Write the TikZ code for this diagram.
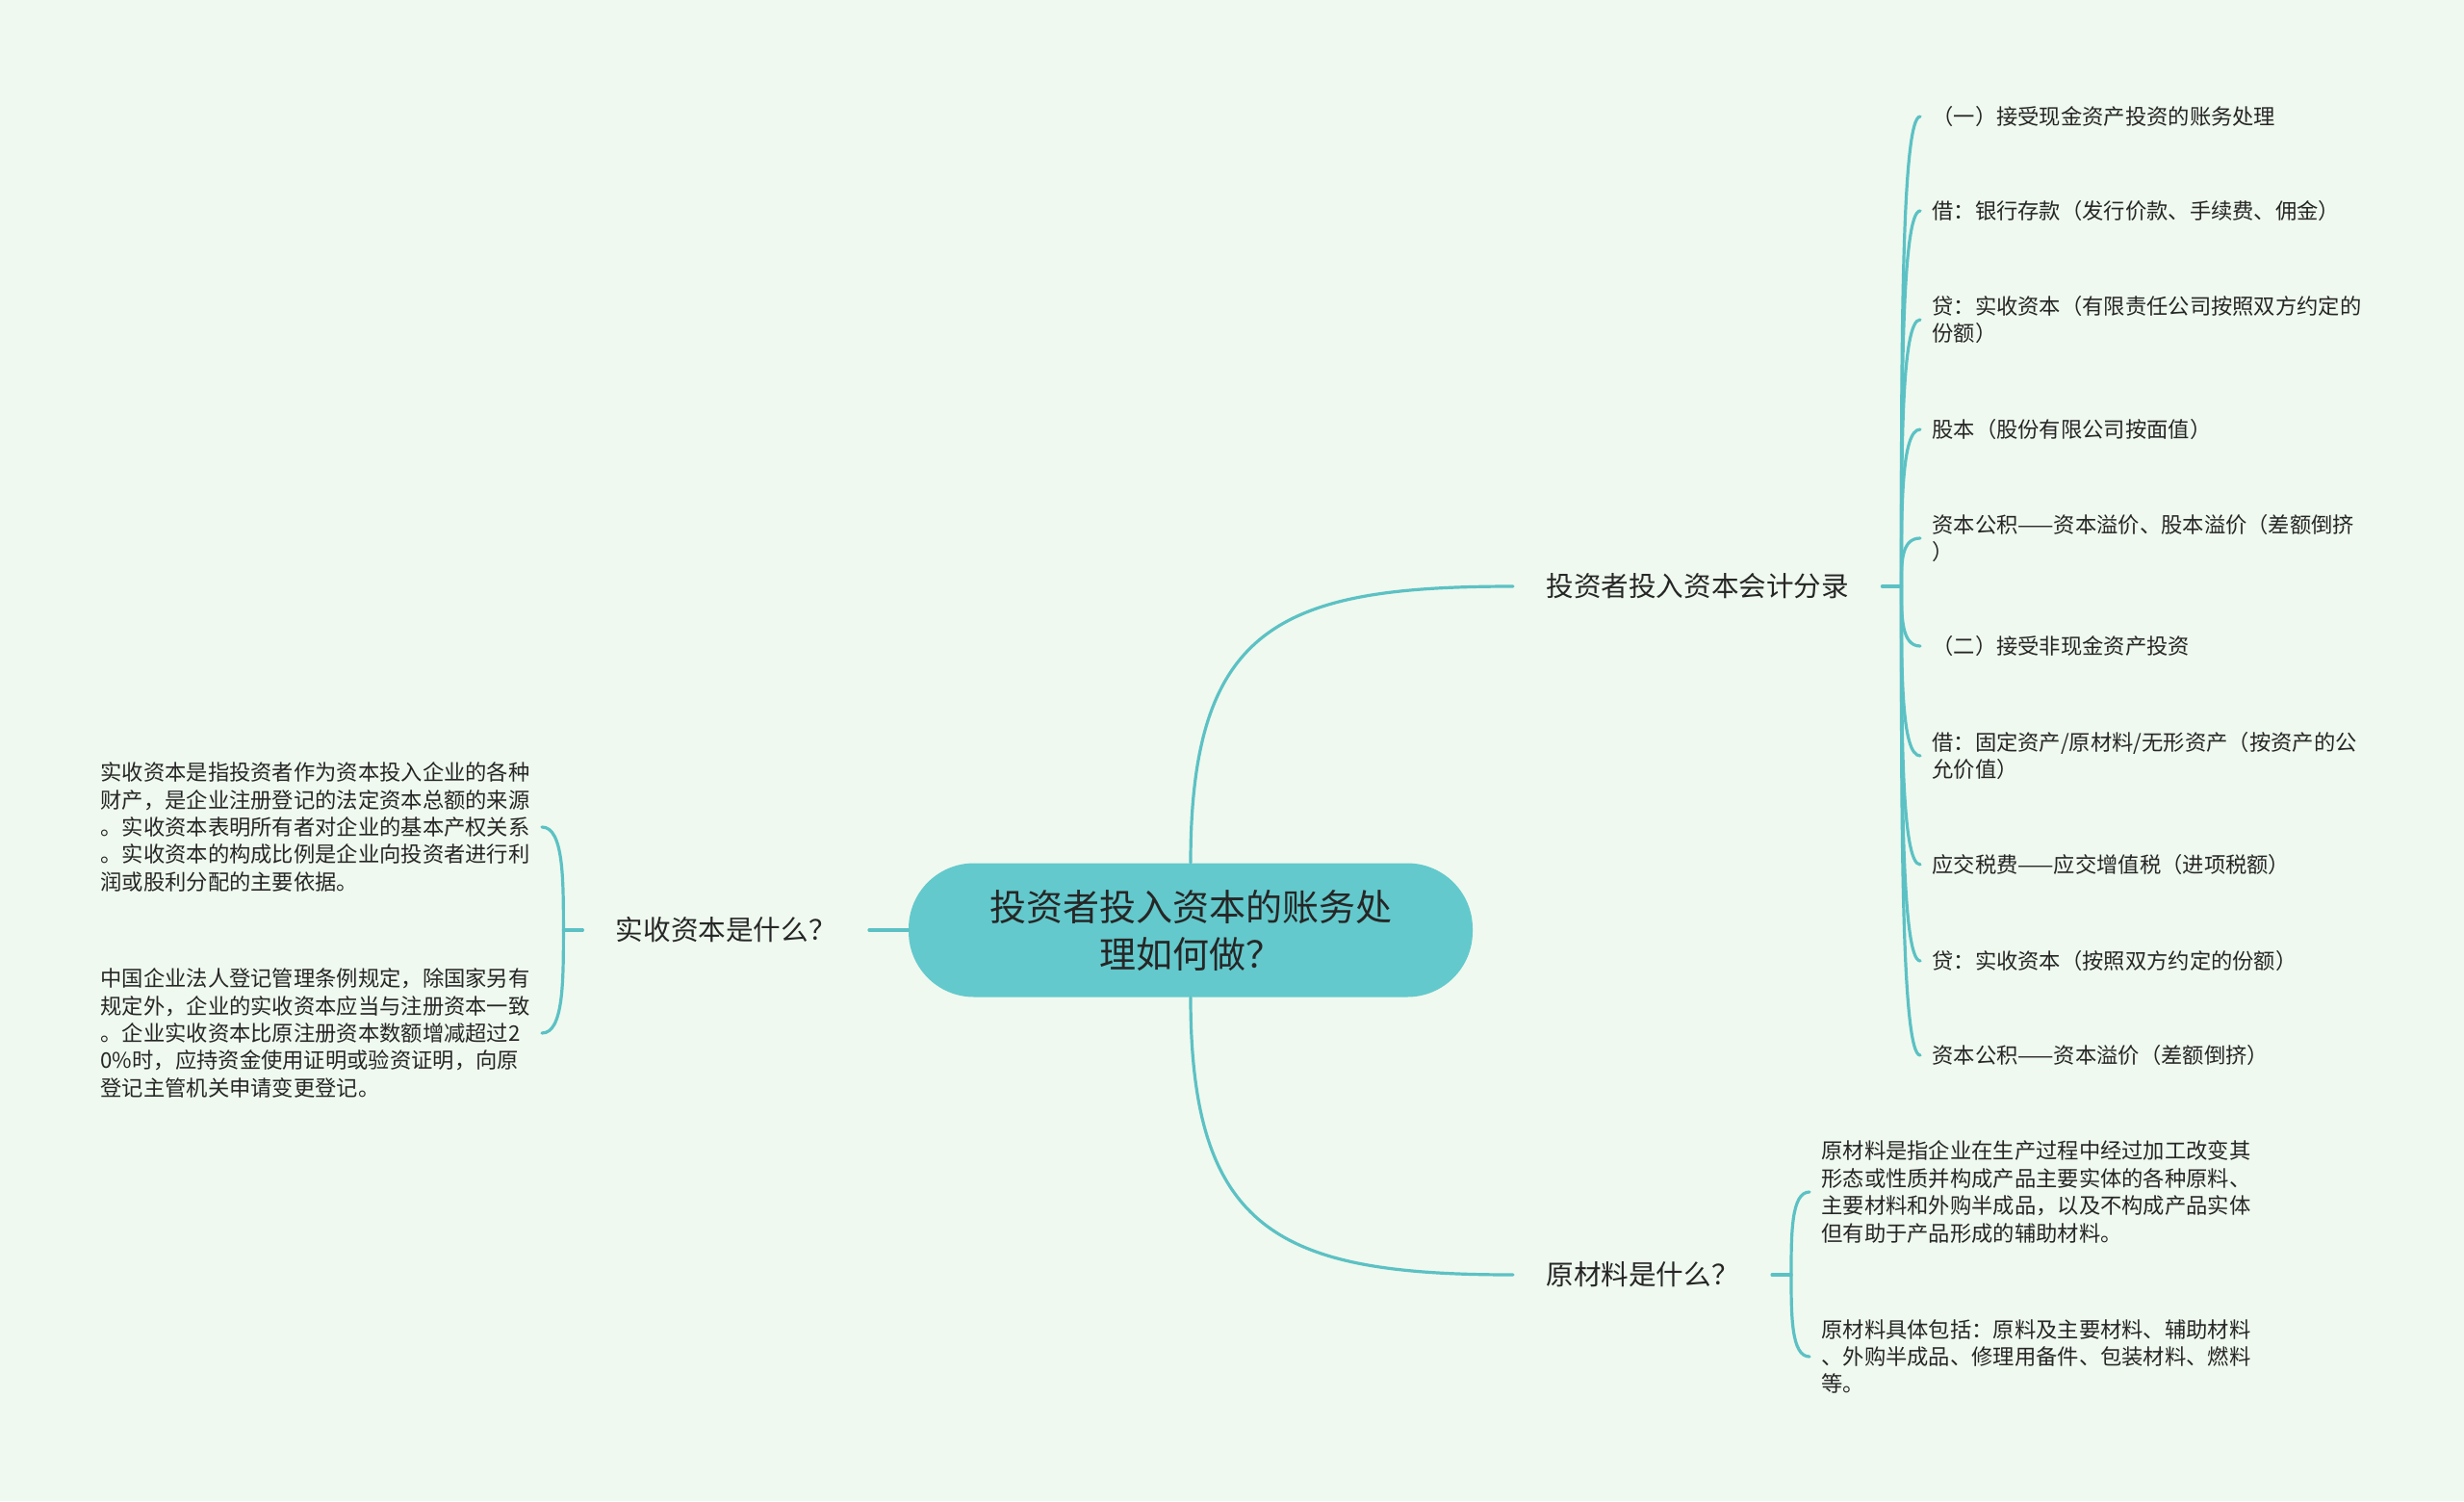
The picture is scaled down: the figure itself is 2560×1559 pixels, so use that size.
\documentclass[tikz,border=0pt]{standalone}
\usepackage{fontspec}
\setmainfont{Noto Sans CJK SC}
\usepackage{tikz}
\usetikzlibrary{calc}
\definecolor{bgmint}{RGB}{239,249,239}
\definecolor{linkteal}{RGB}{92,193,196}
\definecolor{pillteal}{RGB}{99,201,204}
\definecolor{inkgray}{RGB}{38,38,38}

\tikzset{
  link/.style={linkteal, line width=1.6pt, line cap=round},
  branch/.style={font=\fontsize{14.3pt}{17pt}\selectfont, text=inkgray, inner xsep=17pt, inner ysep=4pt},
  leaf/.style={font=\fontsize{11.15pt}{14.2pt}\selectfont, text=inkgray, text width=223pt, align=left, inner xsep=6pt, inner ysep=2pt}
}

\begin{document}
\begin{tikzpicture}[x=0.5pt, y=-0.5pt]
    \fill[bgmint] (0,0) rectangle (2560,1559);

    \node[fill=pillteal, rounded corners=34pt, minimum width=293pt, minimum height=69.5pt, align=center,
          font=\fontsize{19pt}{24.5pt}\selectfont, text=inkgray] (root) at (1237,966) {投资者投入资本的账务处\\理如何做？};

    \node[branch, anchor=west] (acct) at (1572,609) {投资者投入资本会计分录};
    \node[branch, anchor=east] (paid) at (903,966) {实收资本是什么？};
    \node[branch, anchor=west] (raw) at (1572,1324) {原材料是什么？};

    \draw[link] (root.north) .. controls (1237,650) and (1330,609) .. (acct.west);
    \draw[link] (root.south) .. controls (1237,1280) and (1330,1324) .. (raw.west);
    \draw[link] (root.west) -- (paid.east);

    \coordinate (acctj) at ([xshift=10pt]acct.east);
    \coordinate (paidj) at ([xshift=-10pt]paid.west);
    \coordinate (rawj) at ([xshift=10pt]raw.east);
    \draw[link] (acct.east) -- (acctj);
    \draw[link] (paid.west) -- (paidj);
    \draw[link] (raw.east) -- (rawj);

    % journal entries
    \foreach \y/\t [count=\i] in {121/{（一）接受现金资产投资的账务处理},
                                219/{借：银行存款（发行价款、手续费、佣金）},
                                332/{贷：实收资本（有限责任公司按照双方约定的\\份额）},
                                446/{股本（股份有限公司按面值）},
                                559/{资本公积——资本溢价、股本溢价（差额倒挤\\）},
                                671/{（二）接受非现金资产投资},
                                785/{借：固定资产/原材料/无形资产（按资产的公\\允价值）},
                                898/{应交税费——应交增值税（进项税额）},
                                998/{贷：实收资本（按照双方约定的份额）},
                                1096/{资本公积——资本溢价（差额倒挤）}} {
        \node[leaf, anchor=west] (r\i) at (1995,\y) {\t};
        \draw[link] (acctj) .. controls ($(acctj)!0.5!(acctj|-r\i.west)$) and (acctj|-r\i.west) .. (r\i.west);
    }

    \node[leaf, anchor=east] (p1) at (563,859) {实收资本是指投资者作为资本投入企业的各种\\财产，是企业注册登记的法定资本总额的来源\\。实收资本表明所有者对企业的基本产权关系\\。实收资本的构成比例是企业向投资者进行利\\润或股利分配的主要依据。};
    \node[leaf, anchor=east] (p2) at (563,1073) {中国企业法人登记管理条例规定，除国家另有\\规定外，企业的实收资本应当与注册资本一致\\。企业实收资本比原注册资本数额增减超过2\\0\%时，应持资金使用证明或验资证明，向原\\登记主管机关申请变更登记。};

    \node[leaf, anchor=west] (m1) at (1880,1238) {原材料是指企业在生产过程中经过加工改变其\\形态或性质并构成产品主要实体的各种原料、\\主要材料和外购半成品，以及不构成产品实体\\但有助于产品形成的辅助材料。};
    \node[leaf, anchor=west] (m2) at (1880,1409) {原材料具体包括：原料及主要材料、辅助材料\\、外购半成品、修理用备件、包装材料、燃料\\等。};

    \foreach \n in {p1,p2}
        \draw[link] (paidj) .. controls ($(paidj)!0.5!(paidj|-\n.east)$) and (paidj|-\n.east) .. (\n.east);
    \foreach \n in {m1,m2}
        \draw[link] (rawj) .. controls ($(rawj)!0.5!(rawj|-\n.west)$) and (rawj|-\n.west) .. (\n.west);
\end{tikzpicture}
\end{document}
